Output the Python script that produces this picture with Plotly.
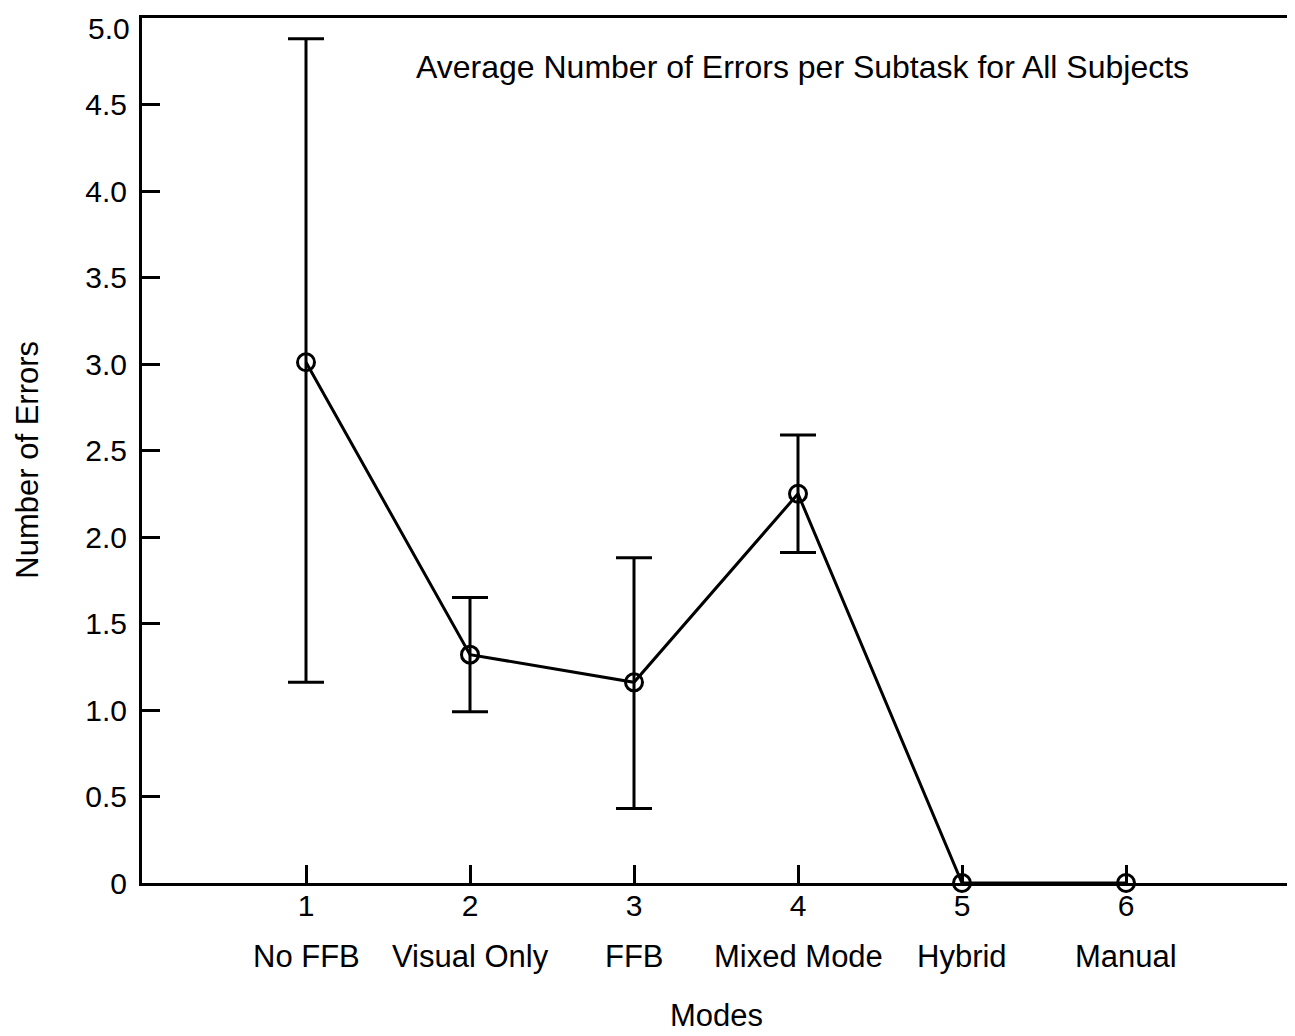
import plotly.graph_objects as go

modes = [1, 2, 3, 4, 5, 6]
mode_names = ["No FFB", "Visual Only", "FFB", "Mixed Mode", "Hybrid", "Manual"]
mean_errors = [3.01, 1.32, 1.16, 2.25, 0.0, 0.0]
upper = [4.88, 1.65, 1.88, 2.59, None, None]
lower = [1.16, 0.99, 0.43, 1.91, None, None]

y_ticks = [0, 0.5, 1.0, 1.5, 2.0, 2.5, 3.0, 3.5, 4.0, 4.5, 5.0]
y_tick_text = ["0", "0.5", "1.0", "1.5", "2.0", "2.5", "3.0", "3.5", "4.0", "4.5", "5.0"]

err_plus = [(u - m) if u is not None else 0 for u, m in zip(upper, mean_errors)]
err_minus = [(m - l) if l is not None else 0 for l, m in zip(lower, mean_errors)]
show_err = [u is not None for u in upper]

FONT = "Liberation Sans, Arial, Helvetica, sans-serif"
BLACK = "black"

fig = go.Figure()
fig.add_trace(go.Scatter(
    x=[x for x, s in zip(modes, show_err) if s],
    y=[y for y, s in zip(mean_errors, show_err) if s],
    mode="markers",
    marker=dict(size=1, color="rgba(0,0,0,0)"),
    error_y=dict(type="data", symmetric=False,
                 array=[e for e, s in zip(err_plus, show_err) if s],
                 arrayminus=[e for e, s in zip(err_minus, show_err) if s],
                 color=BLACK, thickness=3, width=18),
    showlegend=False, hoverinfo="skip",
))
fig.add_trace(go.Scatter(
    x=modes, y=mean_errors, mode="lines+markers",
    line=dict(color=BLACK, width=3),
    marker=dict(symbol="circle-open", size=17, color=BLACK, line=dict(width=3)),
    showlegend=False, cliponaxis=False,
))

for xv, name in zip(modes, mode_names):
    fig.add_annotation(x=xv, y=-0.0855, xref="x", yref="paper", text=name,
                       showarrow=False, font=dict(family=FONT, size=31, color=BLACK),
                       xanchor="center", yanchor="middle")

# top tick label sits slightly below the frame in the original
fig.add_annotation(x=0, y=y_ticks[-1], xref="paper", yref="y", text=y_tick_text[-1],
                   showarrow=False, font=dict(family=FONT, size=30, color=BLACK),
                   xanchor="right", yanchor="middle", xshift=-10, yshift=-10)

fig.add_annotation(x=0.5, y=-0.1535, xref="paper", yref="paper", text="Modes",
                   showarrow=False, font=dict(family=FONT, size=31, color=BLACK),
                   xanchor="center", yanchor="middle")
fig.add_annotation(x=-0.1, y=0.4896, xref="paper", yref="paper", text="Number of Errors",
                   textangle=-90, showarrow=False,
                   font=dict(family=FONT, size=31, color=BLACK),
                   xanchor="center", yanchor="middle")
fig.add_annotation(x=0.5755, y=0.943, xref="paper", yref="paper",
                   text="Average Number of Errors per Subtask for All Subjects",
                   showarrow=False, font=dict(family=FONT, size=32, color=BLACK),
                   xanchor="center", yanchor="middle")

fig.update_layout(
    width=1287, height=1028,
    margin=dict(l=134, r=5, t=10, b=153),
    paper_bgcolor="white", plot_bgcolor="white",
    font=dict(family=FONT, size=30, color=BLACK),
    xaxis=dict(range=[0, 7], tickvals=modes, ticktext=[str(m) for m in modes],
               ticks="inside", ticklen=18, tickwidth=3, tickcolor=BLACK,
               showline=True, linecolor=BLACK, linewidth=3, mirror=True,
               showgrid=False, zeroline=False, ticklabelstandoff=-6,
               automargin=False,
               tickfont=dict(family=FONT, size=30)),
    yaxis=dict(range=[0, 5.0], tickvals=y_ticks,
               ticktext=y_tick_text[:-1] + [""],
               ticks="inside", ticklen=18, tickwidth=3, tickcolor=BLACK,
               showline=True, linecolor=BLACK, linewidth=3, mirror=True,
               showgrid=False, zeroline=False, ticklabelstandoff=6,
               automargin=False,
               tickfont=dict(family=FONT, size=30)),
)

fig.write_html("out.html")
